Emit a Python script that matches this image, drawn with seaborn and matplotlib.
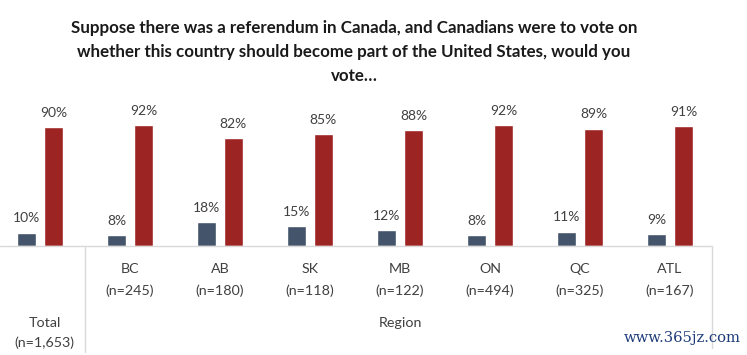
import pandas as pd
import seaborn as sns
import matplotlib.pyplot as plt
import matplotlib.transforms as mtransforms

groups = ["Total", "BC", "AB", "SK", "MB", "ON", "QC", "ATL"]
sample_n = ["n=1,653", "n=245", "n=180", "n=118", "n=122", "n=494", "n=325", "n=167"]
yes_vote = [10, 8, 18, 15, 12, 8, 11, 9]
no_vote = [90, 92, 82, 85, 88, 92, 89, 91]
title = ("Suppose there was a referendum in Canada, and Canadians were to vote on\n"
         "whether this country should become part of the United States, would you\n"
         "vote\u2026")

df = pd.DataFrame({
    "group": groups * 2,
    "vote": ["Yes"] * len(groups) + ["No"] * len(groups),
    "pct": yes_vote + no_vote,
})

sns.set_style("white")
plt.rcParams["font.family"] = ["Lato", "DejaVu Sans"]

W, H = 747, 355
fig = plt.figure(figsize=(W / 100, H / 100), dpi=100)
base_px, top_px, right_px = 246, 95, 712
ax = fig.add_axes([0, (H - base_px) / H, right_px / W, (base_px - top_px) / H])

sns.barplot(data=df, x="group", y="pct", hue="vote", palette=["#44546a", "#9c2523"],
            width=0.6, gap=0.3, legend=False, ax=ax, saturation=1)

ax.set_xlim(-0.444, 7.467)
ax.set_ylim(0, (base_px - top_px) / 1.317)
for c in ax.containers:
    ax.bar_label(c, fmt="%d%%", padding=6, fontsize=10, color="#404040")

ax.set_xticks([])
ax.set_yticks([])
ax.set_xlabel("")
ax.set_ylabel("")
sns.despine(ax=ax, left=True, bottom=True)
ax.axhline(0, color="#d9d9d9", lw=1, clip_on=False)

span = base_px - top_px
ax.axvline(0.5, ymin=-(352 - base_px) / span, ymax=0, color="#d9d9d9", lw=1, clip_on=False)
ax.axvline(7.467, ymin=-(348 - base_px) / span, ymax=0, color="#d9d9d9", lw=1, clip_on=False)

trans = mtransforms.blended_transform_factory(ax.transData, fig.transFigure)
for i, (g, n) in enumerate(zip(groups, sample_n)):
    y1, y2 = (269, 291) if i > 0 else (323, 343)
    ax.text(i + (0.05 if i == 0 else 0), 1 - y1 / H, g, transform=trans, ha="center", va="center",
            fontsize=10.3, color="#404040")
    ax.text(i + (0.05 if i == 0 else 0), 1 - y2 / H, f"({n})", transform=trans, ha="center",
            va="center", fontsize=10.3, color="#404040")
ax.text(4.0, 1 - 323 / H, "Region", transform=trans, ha="center", va="center",
        fontsize=10.3, color="#404040")

fig.text(354 / W, 1 - 52 / H, title, ha="center", va="center", fontsize=12.2,
         fontweight="bold", color="#1a1a1a", linespacing=1.58)

fig.text(741 / W, 1 - 338 / H, "www.365jz.com", ha="right", va="center", fontsize=10.6,
         family="DejaVu Serif", color="#1f3c7a")

fig.savefig("out.png", dpi=100)
